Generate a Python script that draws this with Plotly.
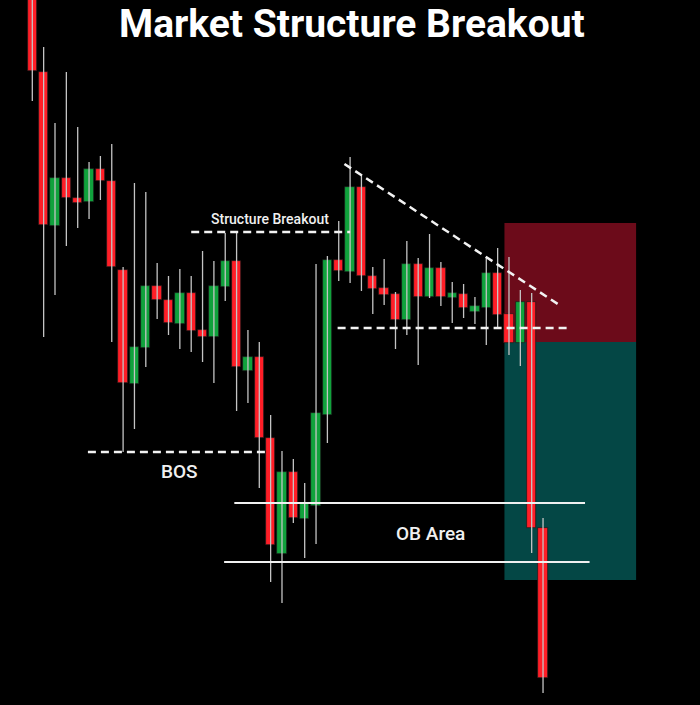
import plotly.graph_objects as go

# ---- data (price units) ----
candle_index = list(range(46))
open_ = [725, 633, 479, 527, 507, 503, 536, 524, 435, 321, 357, 419, 405, 381, 412, 375,
         368, 418, 444, 334, 348, 267, 151, 233, 186, 199, 290, 445, 433, 518, 429, 417,
         411, 385, 441, 408, 437, 407, 411, 393, 397, 432, 391, 362, 403, 177]
high = [735, 658, 582, 633, 578, 543, 549, 561, 438, 522, 513, 442, 429, 436, 429, 454,
        444, 472, 472, 375, 363, 290, 254, 246, 222, 441, 449, 484, 548, 530, 438, 446,
        413, 464, 447, 471, 443, 423, 421, 408, 448, 457, 448, 415, 412, 187]
low = [604, 368, 410, 459, 477, 486, 505, 363, 253, 276, 338, 386, 370, 356, 353, 343,
       322, 404, 294, 302, 217, 123, 102, 182, 147, 161, 262, 424, 422, 414, 391, 400,
       356, 370, 340, 407, 399, 382, 387, 381, 360, 378, 350, 339, 152, 12]
close = [634, 480, 527, 507, 502, 536, 524, 438, 322, 358, 419, 405, 382, 412, 374, 368,
         419, 444, 338, 348, 267, 160, 233, 187, 202, 292, 445, 434, 518, 429, 416, 410,
         385, 441, 408, 437, 408, 412, 397, 399, 432, 390, 362, 403, 177, 27]

# ---- annotation levels (price) and spans (candle index) ----
bos_level = 253
bos_span = (4.9, 20.8)
sb_level = 473
sb_span = (14.0, 28.0)
trend_start = (27.5, 541)
trend_end = (46.3, 401)
range_low_level = 377
range_low_span = (26.9, 47.4)
ob_top_level = 202
ob_top_span = (17.8, 48.7)
ob_bottom_level = 143
ob_bottom_span = (16.9, 49.1)
zone_span = (41.6, 53.2)
stop_zone = (363, 482)
target_zone = (125, 363)

RED = "#ff1e27"
GREEN = "#10a23c"
WICK = "#c4c4c4"

# wicks
wx, wy = [], []
for i, h, l in zip(candle_index, high, low):
    wx += [i, i, None]
    wy += [l, h, None]

body_base = [min(o, c) for o, c in zip(open_, close)]
body_len = [abs(c - o) for o, c in zip(open_, close)]
body_col = [GREEN if c > o else RED for o, c in zip(open_, close)]

fig = go.Figure()
fig.add_trace(go.Scatter(x=wx, y=wy, mode="lines",
                         line=dict(color=WICK, width=1.3),
                         hoverinfo="skip", showlegend=False))
fig.add_trace(go.Bar(x=candle_index, y=body_len, base=body_base, width=0.82,
                     marker=dict(color=body_col, line=dict(color="#1a1a1a", width=0.7)),
                     showlegend=False))

# zones
fig.add_shape(type="rect", x0=zone_span[0], x1=zone_span[1], y0=stop_zone[0], y1=stop_zone[1],
              fillcolor="#6c0b1a", line_width=0, layer="below")
fig.add_shape(type="rect", x0=zone_span[0], x1=zone_span[1], y0=target_zone[0], y1=target_zone[1],
              fillcolor="#044745", line_width=0, layer="below")

dash_style = dict(color="#f2f2f2", width=2.5, dash="8px,5px")
fig.add_shape(type="line", x0=bos_span[0], x1=bos_span[1], y0=bos_level, y1=bos_level, line=dash_style)
fig.add_shape(type="line", x0=sb_span[0], x1=sb_span[1], y0=sb_level, y1=sb_level, line=dash_style)
fig.add_shape(type="line", x0=trend_start[0], x1=trend_end[0], y0=trend_start[1], y1=trend_end[1],
              line=dash_style)
fig.add_shape(type="line", x0=range_low_span[0], x1=range_low_span[1], y0=range_low_level,
              y1=range_low_level, line=dash_style)
solid = dict(color="#f0f0f0", width=2)
fig.add_shape(type="line", x0=ob_top_span[0], x1=ob_top_span[1], y0=ob_top_level, y1=ob_top_level, line=solid)
fig.add_shape(type="line", x0=ob_bottom_span[0], x1=ob_bottom_span[1], y0=ob_bottom_level,
              y1=ob_bottom_level, line=solid)

fig.add_annotation(x=20.9, y=486, text="Structure Breakout", showarrow=False,
                   font=dict(family="Roboto", size=14, color="#f0f0f0", weight=500))
fig.add_annotation(x=13.0, y=234, text="BOS", showarrow=False,
                   font=dict(family="Roboto", size=19, color="#f0f0f0", weight=500))
fig.add_annotation(x=35.1, y=172, text="OB Area", showarrow=False,
                   font=dict(family="Roboto", size=19, color="#f0f0f0", weight=500))
fig.add_annotation(x=0.503, y=0.966, xref="paper", yref="paper", xanchor="center", yanchor="middle",
                   text="<b>Market Structure Breakout</b>",
                   showarrow=False, font=dict(family="Roboto", size=39, color="#ffffff"))

fig.update_layout(
    width=700, height=705,
    margin=dict(l=0, r=0, t=0, b=0),
    paper_bgcolor="#000000", plot_bgcolor="#000000",
    showlegend=False,
    xaxis=dict(range=[-2.846, 58.83], visible=False, fixedrange=True),
    yaxis=dict(range=[0, 705], visible=False, fixedrange=True),
    bargap=0,
)
fig.write_html("out.html", config={"displayModeBar": False},
               post_script="document.body.style.margin='0';document.body.style.background='#000';"
                           "document.body.style.overflow='hidden';")
